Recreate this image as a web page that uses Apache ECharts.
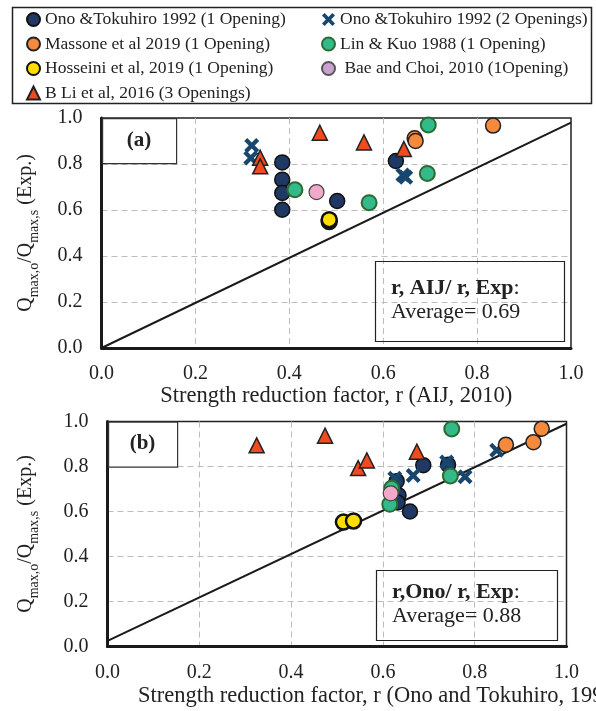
<!DOCTYPE html>
<html>
<head>
<meta charset="utf-8">
<script src="https://cdn.jsdelivr.net/npm/echarts@6/dist/echarts.min.js"></script>
<style>
  html, body { margin: 0; padding: 0; background: #fff; }
  #chart { width: 596px; height: 711px; }
</style>
</head>
<body>
<div id="chart"></div>
<script>
// series names
const names = [
    'Ono &Tokuhiro 1992 (1 Opening)',
    'Ono &Tokuhiro 1992 (2 Openings)',
    'Massone et al 2019 (1 Opening)',
    'Lin & Kuo 1988 (1 Opening)',
    'Hosseini et al, 2019 (1 Opening)',
    'Bae and Choi, 2010 (1Opening)',
    'B Li et al, 2016 (3 Openings)'
];

// (a) r (AIJ, 2010) vs Qmax,o/Qmax,s
const ono1A = [[0.385, 0.807], [0.385, 0.732], [0.385, 0.674], [0.385, 0.601], [0.502, 0.639], [0.627, 0.813]];
const ono2A = [[0.320, 0.880], [0.318, 0.826], [0.642, 0.752], [0.648, 0.742]];
const massoneA = [[0.667, 0.912], [0.669, 0.900], [0.834, 0.967]];
const linA = [[0.412, 0.688], [0.570, 0.632], [0.694, 0.759], [0.696, 0.970]];
const hosseiniA = [[0.485, 0.550], [0.485, 0.558]];
const baeA = [[0.458, 0.678]];
const liA = [[0.338, 0.827], [0.338, 0.790], [0.465, 0.936], [0.559, 0.894], [0.644, 0.865]];
const lineA = [[0, 0], [1, 0.98]];

// (b) r (Ono and Tokuhiro, 1992) vs Qmax,o/Qmax,s
const ono1B = [[0.630, 0.735], [0.634, 0.672], [0.632, 0.640], [0.659, 0.600], [0.688, 0.806], [0.742, 0.808]];
const ono2B = [[0.626, 0.748], [0.666, 0.760], [0.739, 0.820], [0.779, 0.755], [0.848, 0.872]];
const massoneB = [[0.868, 0.897], [0.928, 0.908], [0.946, 0.968]];
const linB = [[0.619, 0.703], [0.615, 0.632], [0.747, 0.758], [0.750, 0.967]];
const hosseiniB = [[0.514, 0.553], [0.536, 0.558]];
const baeB = [[0.617, 0.681]];
const liB = [[0.325, 0.894], [0.474, 0.937], [0.546, 0.793], [0.565, 0.827], [0.674, 0.866]];
const lineB = [[0, 0.025], [1, 0.99]];

const FONT = '"Liberation Serif", "Times New Roman", serif';
const crossPath = 'path://M0,2 L2,0 L5,3 L8,0 L10,2 L7,5 L10,8 L8,10 L5,7 L2,10 L0,8 L3,5 Z';

// marker look per series
const looks = [
    { symbol: 'circle', size: 15, itemStyle: { color: '#1F3864', borderColor: '#111', borderWidth: 1.5, opacity: 1 } },
    { symbol: crossPath, size: 15, itemStyle: { color: '#17466F', opacity: 1 } },
    { symbol: 'circle', size: 15, itemStyle: { color: '#F5893C', borderColor: '#222', borderWidth: 1.5, opacity: 1 } },
    { symbol: 'circle', size: 15, itemStyle: { color: '#34B98B', borderColor: '#2D6A33', borderWidth: 2, opacity: 1 } },
    { symbol: 'circle', size: 15, itemStyle: { color: '#FFDD00', borderColor: '#111', borderWidth: 2.5, opacity: 1 } },
    { symbol: 'circle', size: 15, itemStyle: { color: '#F2A8C9', borderColor: '#444', borderWidth: 1.2, opacity: 1 } },
    { symbol: 'triangle', size: 15, itemStyle: { color: '#F04A1E', borderColor: '#222', borderWidth: 1.5, opacity: 1 } }
];

function scatterSeries(dataList, idx) {
    return dataList.map(function(d, i) {
        return {
            name: names[i],
            type: 'scatter',
            xAxisIndex: idx,
            yAxisIndex: idx,
            symbol: looks[i].symbol,
            symbolSize: looks[i].size,
            itemStyle: looks[i].itemStyle,
            z: 3 + i,
            data: d
        };
    });
}

function refLine(d, idx) {
    return {
        type: 'line', xAxisIndex: idx, yAxisIndex: idx, data: d,
        symbol: 'none', silent: true, z: 2,
        lineStyle: { color: '#1a1a1a', width: 2 }
    };
}

function xAxis(idx, name) {
    return {
        gridIndex: idx, type: 'value', min: 0, max: 1, interval: 0.2,
        name: name, nameLocation: 'middle', nameGap: 36,
        nameTextStyle: { fontFamily: FONT, fontSize: 22.5, color: '#222' },
        axisLine: { onZero: false, lineStyle: { color: '#1a1a1a', width: 3 } },
        axisTick: { show: false },
        axisLabel: { margin: 16, fontFamily: FONT, fontSize: 20, color: '#222', formatter: v => v.toFixed(1) },
        splitLine: { showMaxLine: false, lineStyle: { color: '#BDBDBD', type: [6, 4], width: 1 } }
    };
}

function yAxis(idx, gap) {
    return {
        gridIndex: idx, type: 'value', min: 0, max: 1, interval: 0.2,
        name: '{m|Q}{s|max,o}{m|/Q}{s|max,s}{m| (Exp.)}',
        nameLocation: 'middle', nameGap: gap,
        nameTextStyle: {
            rich: {
                m: { fontFamily: FONT, fontSize: 20, color: '#222', lineHeight: 26, verticalAlign: 'top' },
                s: { fontFamily: FONT, fontSize: 14, color: '#222', lineHeight: 14, verticalAlign: 'bottom' }
            }
        },
        axisLine: { onZero: false, lineStyle: { color: '#1a1a1a', width: 3 } },
        axisTick: { show: false },
        axisLabel: { margin: 19, fontFamily: FONT, fontSize: 20, color: '#222', formatter: v => v.toFixed(1) },
        splitLine: { showMaxLine: false, lineStyle: { color: '#BDBDBD', type: [6, 4], width: 1 } }
    };
}

function labelBox(x, y, w, h, label) {
    return [
        { type: 'rect', left: x, top: y, shape: { width: w, height: h }, z: 20,
          style: { fill: '#fff', stroke: '#333', lineWidth: 1.2 } },
        { type: 'text', x: x + w / 2, y: y + h / 2, z: 21,
          style: { text: label, font: 'bold 21px ' + FONT, fill: '#222', align: 'center', verticalAlign: 'middle' } }
    ];
}

function statBox(x, y, w, h, head, avg) {
    return [
        { type: 'rect', left: x, top: y, shape: { width: w, height: h }, z: 20,
          style: { fill: 'none', stroke: '#222', lineWidth: 1.2 } },
        { type: 'text', x: x + 18, y: y + h / 2 - 11, z: 21,
          style: {
              text: '{b|' + head + '}{n|:}', verticalAlign: 'middle',
              rich: {
                  b: { fontFamily: FONT, fontSize: 22, fontWeight: 'bold', fill: '#222' },
                  n: { fontFamily: FONT, fontSize: 22, fill: '#222' }
              }
          } },
        { type: 'text', x: x + 18, y: y + h / 2 + 13, z: 21,
          style: { text: 'Average= ' + avg, font: '22px ' + FONT, fill: '#222', verticalAlign: 'middle' } }
    ];
}

const chart = echarts.init(document.getElementById('chart'));

const legendText = { fontFamily: FONT, fontSize: 17.5, color: '#222', lineHeight: 18 };

chart.setOption({
    backgroundColor: '#fff',
    animation: false,
    legend: [
        {
            left: 21, top: 5.5, orient: 'vertical', itemGap: 6.5, itemWidth: 13, itemHeight: 13,
            textStyle: legendText,
            data: [names[0], names[2], names[4], names[6]]
        },
        {
            left: 316, top: 5.5, orient: 'vertical', itemGap: 6.5, itemWidth: 13, itemHeight: 13,
            textStyle: legendText,
            formatter: n => n === names[5] ? ' ' + n : n,
            data: [names[1], names[3], { name: names[5], itemStyle: { color: '#C9A3CF', borderColor: '#555' } }]
        }
    ],
    grid: [
        { left: 101.5, top: 118, right: 25, height: 230, show: true, borderColor: '#222', borderWidth: 1.5 },
        { left: 107.5, top: 421.5, right: 29.5, height: 225, show: true, borderColor: '#222', borderWidth: 1.5 }
    ],
    xAxis: [
        xAxis(0, 'Strength reduction factor, r (AIJ, 2010)'),
        xAxis(1, '')
    ],
    yAxis: [yAxis(0, 60), yAxis(1, 66)],
    graphic: [
        { type: 'rect', left: 10, top: 5, shape: { width: 579, height: 96 },
          style: { fill: 'none', stroke: '#222', lineWidth: 1.5 } },
        { type: 'text', x: 138, y: 696, z: 10,
          style: { text: 'Strength reduction factor, r (Ono and Tokuhiro, 1992)', font: '22.5px ' + FONT, fill: '#222', verticalAlign: 'middle' } }
    ].concat(
        labelBox(102, 118, 74, 45, '(a)'),
        labelBox(108, 421.5, 69, 45, '(b)'),
        statBox(373, 259, 189, 80, 'r, AIJ/ r, Exp', '0.69'),
        statBox(374, 568, 181, 70, 'r,Ono/ r, Exp', '0.88')
    ),
    series: [refLine(lineA, 0), refLine(lineB, 1)]
        .concat(scatterSeries([ono1A, ono2A, massoneA, linA, hosseiniA, baeA, liA], 0))
        .concat(scatterSeries([ono1B, ono2B, massoneB, linB, hosseiniB, baeB, liB], 1))
});
</script>
</body>
</html>
